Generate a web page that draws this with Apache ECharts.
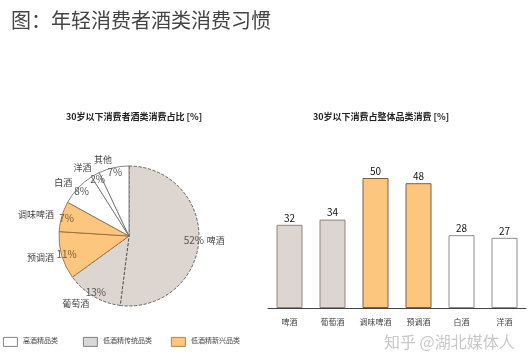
<!DOCTYPE html>
<html><head><meta charset="utf-8">
<script src="https://cdn.jsdelivr.net/npm/echarts@6/dist/echarts.min.js"></script>
<style>html,body{margin:0;padding:0;background:#fff}#c{width:531px;height:361px}</style>
</head><body><div id="c"></div>
<script>
const pieNames = ['啤酒','葡萄酒','预调酒','调味啤酒','白酒','洋酒','其他'];
const pieValues = [52,13,11,7,8,2,7];
const pieGroups = ['low','low','new','new','high','high','high'];
const barCategories = ['啤酒','葡萄酒','调味啤酒','预调酒','白酒','洋酒'];
const barValues = [32,34,50,48,28,27];
const barGroups = ['low','low','new','new','high','high'];
const legendLabels = ['高酒精品类','低酒精传统品类','低酒精新兴品类'];

const fill = {low:'#ddd5d0', new:'#fdc67e', high:'#ffffff'};
const edge = {low:'#8c8580', new:'#7a6040', high:'#8c8c8c'};
const pieEdge = {low:{borderColor:'#444',borderType:'dashed'}, new:{borderColor:'#8a6535',borderType:'solid'}, high:{borderColor:'#666',borderType:'solid'}};
const pctColor = {low:'#555', new:'#7a5a30', high:'#555'};
const font = '"Noto Sans CJK SC", "Noto Sans", sans-serif';

const chart = echarts.init(document.getElementById('c'));
const pieData = pieNames.map((n,i)=>({name:n,value:pieValues[i],
  itemStyle:Object.assign({color:fill[pieGroups[i]],borderWidth:0.8},pieEdge[pieGroups[i]])}));
const legendKeys = ['high','low','new'];
const legendX = [3,83,171];
const graphics = [];
legendKeys.forEach((k,i)=>{
  graphics.push({type:'rect',left:legendX[i],top:337,shape:{width:14,height:9},
    style:{fill:k==='low'?'#d8d8d8':fill[k],stroke:k==='new'?'#a07030':'#666',lineWidth:0.8}});
  graphics.push({type:'text',left:legendX[i]+20,top:337,
    style:{text:legendLabels[i],font:'7px '+font,fill:'#444'}});
});
graphics.push({type:'text',left:384,top:334,style:{text:'知乎 @湖北媒体人',font:'16px '+font,fill:'#c8c8c8'}});

chart.setOption({
  animation:false,
  title:[
    {text:'图：年轻消费者酒类消费习惯',left:6,top:5,textStyle:{fontFamily:font,fontSize:20,fontWeight:'normal',color:'#444'}},
    {text:'30岁以下消费者酒类消费占比 [%]',left:129,textAlign:'center',top:107,textStyle:{fontFamily:font,fontSize:9,fontWeight:'bold',color:'#222'}},
    {text:'30岁以下消费占整体品类消费 [%]',left:376,textAlign:'center',top:107,textStyle:{fontFamily:font,fontSize:9,fontWeight:'bold',color:'#222'}}
  ],
  grid:{left:268,right:5,top:100,bottom:53},
  xAxis:{type:'category',data:barCategories,
    axisLine:{lineStyle:{color:'#444',width:1}},axisTick:{show:false},
    axisLabel:{interval:0,fontFamily:font,fontSize:8,color:'#444',margin:10}},
  yAxis:{type:'value',min:0,max:80,show:false,splitLine:{show:false}},
  series:[
    {type:'bar',barWidth:26,data:barValues.map((v,i)=>({value:v,
      itemStyle:{color:fill[barGroups[i]],borderColor:edge[barGroups[i]],borderWidth:1}})),
     label:{show:true,position:'top',fontFamily:font,fontSize:10,color:'#111',distance:2}},
    {type:'pie',center:[129,236],radius:[0,70],startAngle:90,clockwise:true,
     avoidLabelOverlap:false,labelLayout:{hideOverlap:false},
     data:pieData,
     label:{show:true,position:'outside',formatter:'{b}',fontFamily:font,fontSize:9,color:'#444',distanceToLabelLine:0},
     labelLine:{show:false,length:8,length2:0},
     emphasis:{disabled:true}},
    {type:'pie',center:[129,236],radius:[51,73],startAngle:90,clockwise:true,silent:true,
     avoidLabelOverlap:false,labelLayout:{hideOverlap:false},
     data:pieNames.map((n,i)=>({name:n,value:pieValues[i],label:{color:pctColor[pieGroups[i]]}})),
     itemStyle:{color:'rgba(0,0,0,0)',borderWidth:0},
     label:{show:true,position:'inside',formatter:'{c}%',fontFamily:font,fontSize:10,color:'#555'},
     labelLine:{show:false}}
  ],
  graphic:graphics
});
</script></body></html>
